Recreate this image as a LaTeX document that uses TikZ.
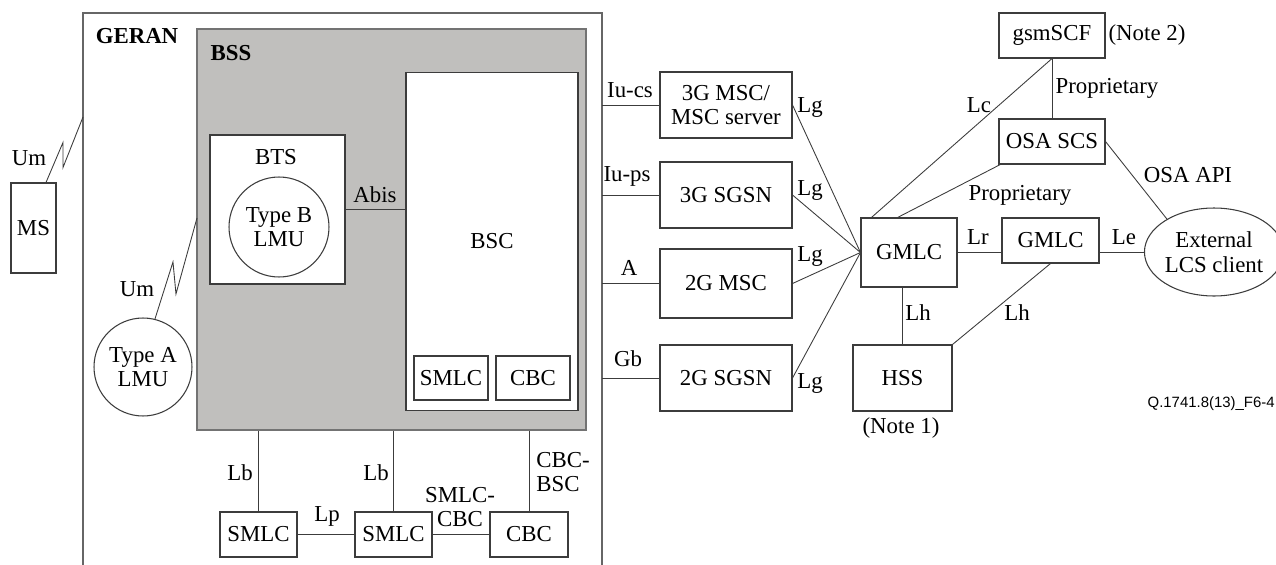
\documentclass[tikz,border=0pt]{standalone}
\usepackage{fontspec}
\setmainfont{Liberation Serif}
\newfontfamily\figsans{Liberation Sans}
\usetikzlibrary{shapes.geometric}
\definecolor{bssgray}{RGB}{192,191,189}
\definecolor{linegray}{RGB}{60,60,60}

\begin{document}
\begin{tikzpicture}[x=0.02cm, y=-0.02cm, font=\fontsize{13}{14}\selectfont,
	box/.style={draw=linegray, line width=0.6pt, fill=white, inner sep=0pt, align=center},
	link/.style={draw=linegray, line width=0.5pt},
	lbl/.style={inner sep=0pt, align=center}]
	\useasboundingbox (0,0) rectangle (1276,565);
	% GERAN frame, open at the bottom
	\draw[draw=black!60, line width=0.8pt] (83,565) -- (83,13) -- (602,13) -- (602,565);
	\coordinate (geranR) at (602,0);
	\node[lbl, font=\fontsize{13}{14}\selectfont\bfseries] (geranText) at (137,36) {GERAN};
	% BSS
	\node[draw=black!55, line width=1.2pt, fill=bssgray, minimum width=7.78cm, minimum height=8.02cm] (bss) at (391.5,229.5) {};
	\node[lbl, font=\fontsize{13}{14}\selectfont\bfseries] (bssText) at (231,53) {BSS};
	\node[box, minimum width=2.7cm, minimum height=2.98cm] (bts) at (277.5,209.5) {};
	\node[lbl] (btsText) at (276,157) {BTS};
	\node[box, circle, minimum size=2cm] (lmuB) at (279,227) {Type B\\LMU};
	\node[box, minimum width=3.44cm, minimum height=6.78cm] (bsc) at (492,241.5) {BSC};
	\node[box, minimum width=1.48cm, minimum height=0.88cm] (smlcIn) at (451,378) {SMLC};
	\node[box, minimum width=1.48cm, minimum height=0.88cm] (cbcIn) at (533,378) {CBC};
	\draw[link] (bts.east) -- (bsc.west |- bts.east);
	\node[lbl] (abisText) at (375,195) {Abis};
	% radio side
	\node[box, minimum width=0.9cm, minimum height=1.8cm] (ms) at (33.5,228) {MS};
	\node[box, circle, minimum size=1.96cm] (lmuA) at (143,367) {Type A\\LMU};
	\coordinate (umMS) at (83,117);
	\coordinate (umLMU) at (197,218);
	\draw[link] ([xshift=0.25cm]ms.north) -- ++(17,-40) -- ++(0,25) -- (umMS);
	\draw[link] (lmuA.76) -- ++(18,-57) -- ++(3,32) -- (umLMU);
	\node[lbl] (umText1) at (29,158) {Um};
	\node[lbl] (umText2) at (137,289) {Um};
	% below the BSS
	\node[box, minimum width=1.54cm, minimum height=0.9cm] (smlcA) at (258.5,534.5) {SMLC};
	\node[box, minimum width=1.54cm, minimum height=0.9cm] (smlcB) at (393.5,534.5) {SMLC};
	\node[box, minimum width=1.56cm, minimum height=0.9cm] (cbcB) at (529,534.5) {CBC};
	\draw[link] (smlcA.north) -- (smlcA.north |- bss.south);
	\draw[link] (smlcB.north) -- (smlcB.north |- bss.south);
	\draw[link] (cbcB.north) -- (cbcB.north |- bss.south);
	\draw[link] (smlcA.east) -- (smlcB.west);
	\draw[link] (smlcB.east) -- (cbcB.west);
	\node[lbl] (lbText1) at (240,473) {Lb};
	\node[lbl] (lbText2) at (376,473) {Lb};
	\node[lbl] (lpText) at (327,516) {Lp};
	\node[lbl] (smlcCbcText) at (460,507) {SMLC-\\CBC};
	\node[lbl, anchor=west, align=left] (cbcBscText) at (536,472) {CBC-\\BSC};
	% core network
	\node[box, minimum width=2.64cm, minimum height=1.32cm] (msc3g) at (726,105) {3G MSC/\\MSC server};
	\node[box, minimum width=2.64cm, minimum height=1.32cm] (sgsn3g) at (726,195) {3G SGSN};
	\node[box, minimum width=2.64cm, minimum height=1.38cm] (msc2g) at (726,283.5) {2G MSC};
	\node[box, minimum width=2.64cm, minimum height=1.32cm] (sgsn2g) at (726,378) {2G SGSN};
	\draw[link] (msc3g.west) -- (msc3g.west -| geranR);
	\draw[link] (sgsn3g.west) -- (sgsn3g.west -| geranR);
	\draw[link] (msc2g.west) -- (msc2g.west -| geranR);
	\draw[link] (sgsn2g.west) -- (sgsn2g.west -| geranR);
	\node[lbl] (iucsText) at (630,90) {Iu-cs};
	\node[lbl] (iupsText) at (627,176) {Iu-ps};
	\node[lbl] (aText) at (629,268) {A};
	\node[lbl] (gbText) at (628,359) {Gb};
	\node[box, minimum width=1.92cm, minimum height=1.38cm] (gmlcA) at (909,252.5) {GMLC};
	\draw[link] (msc3g.east) -- (gmlcA.west);
	\draw[link] (sgsn3g.east) -- (gmlcA.west);
	\draw[link] (msc2g.east) -- (gmlcA.west);
	\draw[link] (sgsn2g.east) -- (gmlcA.west);
	\node[lbl, anchor=west] (lgText1) at (797,107) {Lg};
	\node[lbl, anchor=west] (lgText2) at (797,190) {Lg};
	\node[lbl, anchor=west] (lgText3) at (797,256) {Lg};
	\node[lbl, anchor=west] (lgText4) at (797,383) {Lg};
	% location services side
	\node[box, minimum width=2.12cm, minimum height=0.9cm] (gsmscf) at (1052,35.5) {gsmSCF};
	\node[box, minimum width=2.12cm, minimum height=0.9cm] (osascs) at (1052,141.5) {OSA SCS};
	\node[box, minimum width=1.94cm, minimum height=0.9cm] (gmlcB) at (1050.5,240.5) {GMLC};
	\node[box, ellipse, minimum width=2.44cm, minimum height=1.76cm] (ext) at (1214,252) {External\\LCS client};
	\node[box, minimum width=1.98cm, minimum height=1.32cm] (hss) at (902.5,378) {HSS};
	\draw[link] (gmlcA.137) -- (gsmscf.south);
	\draw[link] (gsmscf.south) -- (osascs.north);
	\draw[link] (gmlcA.108) -- (osascs.204);
	\draw[link] (osascs.east) -- (ext.145);
	\draw[link] (gmlcA.east) -- (gmlcA.east -| gmlcB.west);
	\draw[link] (gmlcB.east |- ext.west) -- (ext.west);
	\draw[link] (hss.north) -- (hss.north |- gmlcA.south);
	\draw[link] (hss.north east) -- (gmlcB.south);
	\node[lbl] (lcText) at (979,105) {Lc};
	\node[lbl] (propText1) at (1107,88) {Proprietary};
	\node[lbl] (propText2) at (1020,195) {Proprietary};
	\node[lbl] (apiText) at (1188,175) {OSA API};
	\node[lbl] (lrText) at (978,237) {Lr};
	\node[lbl] (leText) at (1124,237) {Le};
	\node[lbl] (note2Text) at (1147,35) {(Note 2)};
	\node[lbl] (lhText1) at (918,313) {Lh};
	\node[lbl] (lhText2) at (1017,313) {Lh};
	\node[lbl] (note1Text) at (901,428) {(Note 1)};
	\node[lbl, anchor=east, font=\figsans\fontsize{8.5}{10}\selectfont] (figText) at (1275,404) {Q.1741.8(13)\_F6-4};
\end{tikzpicture}
\end{document}
